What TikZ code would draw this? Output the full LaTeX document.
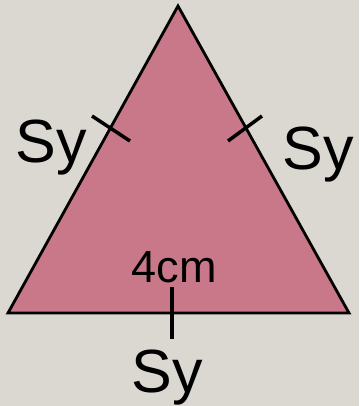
\documentclass[tikz,border=0pt]{standalone}
\usepackage{fontspec}
\setmainfont{Liberation Sans}
\definecolor{bgc}{RGB}{219,216,210}
\definecolor{tri}{RGB}{200,120,136}
\begin{document}
\begin{tikzpicture}[x=1pt,y=1pt,
  lbl/.style={anchor=base,inner sep=0pt,font=\fontsize{61}{61}\selectfont},
  small/.style={anchor=base,inner sep=0pt,font=\fontsize{45}{45}\selectfont},
  tick/.style={line width=3.5pt}]
\fill[bgc] (0,0) rectangle (359,406);
\useasboundingbox (0,0) rectangle (359,406);
\coordinate (A) at (178,400);
\coordinate (B) at (8,93);
\coordinate (C) at (349,93);
\draw[fill=tri,line width=2.8pt,line join=miter] (A) -- (B) -- (C) -- cycle;
\coordinate (l1) at (92,290);
\coordinate (l2) at (130,265);
\coordinate (r1) at (262,290);
\coordinate (r2) at (228,265);
\coordinate (b1) at (172,119);
\coordinate (b2) at (172,67);
\draw[tick] (l1) -- (l2);
\draw[tick] (r1) -- (r2);
\draw[tick] (b1) -- (b2);
\node[lbl] (sl) at (51,243) {Sy};
\node[lbl] (sr) at (318,236) {Sy};
\node[lbl] (sb) at (167,13) {Sy};
\node[small] (cm) at (174,123) {4cm};
\end{tikzpicture}
\end{document}
